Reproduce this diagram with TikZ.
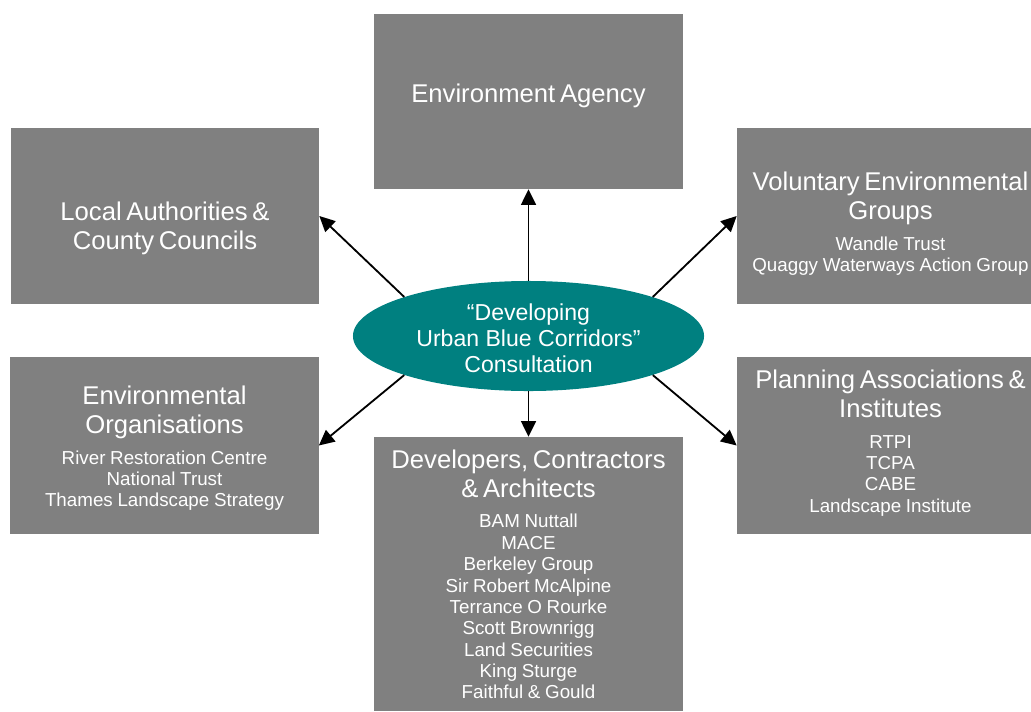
\documentclass[tikz,border=0pt]{standalone}
\usepackage{fontspec}
\setmainfont{Liberation Sans}
\usetikzlibrary{shapes.geometric, positioning, arrows.meta}
\definecolor{boxgrey}{HTML}{808080}
\definecolor{conteal}{HTML}{008080}
\newcommand{\hdfont}{\fontsize{18.25}{20.6}\selectfont}
\newcommand{\smfont}{\fontsize{13.35}{15.2}\selectfont}
\newcommand{\elfont}{\fontsize{16.4}{18.4}\selectfont}
\newcommand{\listgap}{\par\vspace{6.5pt}\smfont}

\begin{document}
\begin{tikzpicture}[x=0.025cm, y=-0.025cm,
	box/.style={rectangle, fill=boxgrey, draw=none, inner sep=0pt, minimum width=7.7cm},
	boxtext/.style={text=white, inner sep=0pt, text width=7.6cm},
	link/.style={-{Triangle[length=11pt, width=10.5pt]}, line width=1.3pt}]
			\useasboundingbox (0,0) rectangle (1031,711);
			
			%% Caixas
			\node [box, minimum height=4.375cm] (ea) at (528.5,101.5) {};
			\node [box, minimum height=4.4cm] (la) at (165,216) {};
			\node [box, minimum height=4.4cm, minimum width=7.35cm] (vol) at (884,216) {};
			\node [box, minimum height=4.425cm] (eo) at (164.5,445.5) {};
			\node [box, minimum height=6.85cm] (dev) at (528.5,574) {};
			\node [box, minimum height=4.425cm, minimum width=7.35cm] (plan) at (884,445.5) {};
			
			%% Consulta
			\node [ellipse, fill=conteal, inner sep=0pt, minimum width=8.775cm, minimum height=2.75cm,
				text=white, align=center, font=\elfont] (cons) at (528.5,336)
				{\rule{0pt}{15.5pt}``Developing\\ Urban Blue Corridors''\\ Consultation};
			
			%% Textos
			\node [boxtext] (ea-t) at (528.5,96) {\centering\hdfont Environment Agency\par};
			\node [boxtext] (la-t) at (165,228) {\centering\hdfont Local Authorities \&\\ County Councils\par};
			\node [boxtext] (vol-t) at (890.5,224) {\centering\hdfont Voluntary Environmental\\ Groups
				\listgap Wandle Trust\\ Quaggy Waterways Action Group\par};
			\node [boxtext] (eo-t) at (164.5,448.5) {\centering\hdfont Environmental\\ Organisations
				\listgap River Restoration Centre\\ National Trust\\ Thames Landscape Strategy\par};
			\node [boxtext] (dev-t) at (528.5,574.5) {\centering\hdfont Developers, Contractors\\ \& Architects
				\listgap BAM Nuttall\\ MACE\\ Berkeley Group\\ Sir Robert McAlpine\\ Terrance O Rourke\\
				Scott Brownrigg\\ Land Securities\\ King Sturge\\ Faithful \& Gould\par};
			\node [boxtext] (plan-t) at (890.5,443) {\centering\hdfont Planning Associations \&\\ Institutes
				\listgap RTPI\\ TCPA\\ CABE\\ Landscape Institute\par};
			
			%% Setas
			\draw [link] (cons.north) -- (ea.south);
			\draw [link] (cons.south) -- (dev.north);
			\draw [link] (cons.north west) -- (la.east);
			\draw [link] (cons.north east) -- (vol.west);
			\draw [link] (cons.south west) -- (eo.east);
			\draw [link] (cons.south east) -- (plan.west);
		\end{tikzpicture}
\end{document}
